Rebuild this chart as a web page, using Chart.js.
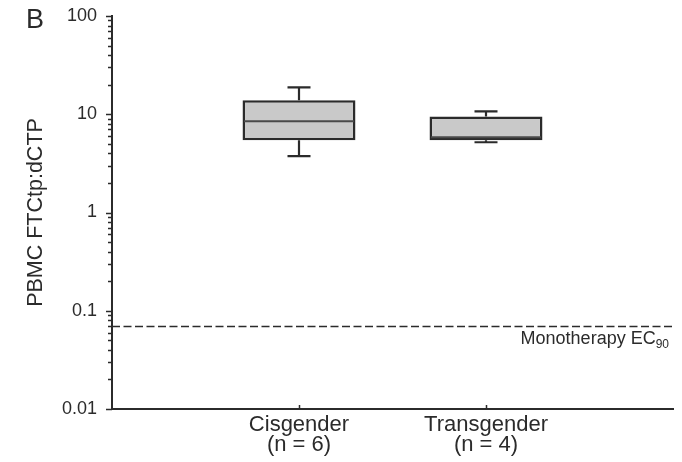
<!DOCTYPE html>
<html>
<head>
<meta charset="utf-8">
<script src="https://cdn.jsdelivr.net/npm/chart.js@4.4.1/dist/chart.umd.min.js"></script>
<style>
  html, body { margin: 0; padding: 0; background: #ffffff; }
  #wrap { width: 682px; height: 462px; }
</style>
</head>
<body>
<div id="wrap"><canvas id="chart" width="682" height="462"></canvas></div>
<script>
// Groups and box-plot summary values (PBMC FTCtp:dCTP ratio)
const groups = ['Cisgender', 'Transgender'];
const groupSizes = [6, 4];
const whiskerLow = [3.74, 5.19];
const quartile1 = [5.43, 5.43];
const medians = [8.5, 5.85];
const quartile3 = [13.9, 9.5];
const whiskerHigh = [18.8, 10.7];

// Reference threshold line
const ec90 = 0.07;

// Y axis decades and their labels
const yTickValues = [0.01, 0.1, 1, 10, 100];
const yTickLabels = ['0.01', '0.1', '1', '10', '100'];

const FONT = '"Liberation Sans", Arial, sans-serif';
const INK = '#2b2b2b';

// Category axis has empty end slots so the two groups sit at 1/3 and 2/3
const labels = [''].concat(groups.map((g, i) => [g, '(n = ' + groupSizes[i] + ')'])).concat(['']);
const boxData = [null].concat(groups.map((g, i) => [quartile1[i], quartile3[i]])).concat([null]);

const boxPlotExtras = {
  id: 'boxPlotExtras',
  afterDatasetsDraw(chart) {
    const ctx = chart.ctx;
    const x = chart.scales.x;
    const y = chart.scales.y;
    const meta = chart.getDatasetMeta(0);
    const area = chart.chartArea;

    ctx.save();
    // threshold line
    const yt = Math.round(y.getPixelForValue(ec90)) + 0.5;
    ctx.strokeStyle = INK;
    ctx.lineWidth = 1.6;
    ctx.setLineDash([8, 3.5]);
    ctx.beginPath();
    ctx.moveTo(area.left, yt);
    ctx.lineTo(area.right, yt);
    ctx.stroke();
    ctx.setLineDash([]);

    groups.forEach((g, i) => {
      const bar = meta.data[i + 1];
      const cx = x.getPixelForValue(i + 1);
      const half = bar.width / 2;
      const cap = 11.5;
      const yMin = y.getPixelForValue(whiskerLow[i]);
      const yQ1 = y.getPixelForValue(quartile1[i]);
      const yMed = y.getPixelForValue(medians[i]);
      const yQ3 = y.getPixelForValue(quartile3[i]);
      const yMax = y.getPixelForValue(whiskerHigh[i]);

      ctx.strokeStyle = INK;
      ctx.lineWidth = 2.2;
      ctx.beginPath();
      ctx.moveTo(cx, yQ3); ctx.lineTo(cx, yMax);
      ctx.moveTo(cx - cap, yMax); ctx.lineTo(cx + cap, yMax);
      ctx.moveTo(cx, yQ1); ctx.lineTo(cx, yMin);
      ctx.moveTo(cx - cap, yMin); ctx.lineTo(cx + cap, yMin);
      ctx.stroke();

      ctx.strokeStyle = '#4a4a4a';
      ctx.lineWidth = 2;
      ctx.beginPath();
      ctx.moveTo(cx - half + 1.5, yMed);
      ctx.lineTo(cx + half - 1.5, yMed);
      ctx.stroke();
    });

    // y tick marks (major and minor), pointing outward
    ctx.strokeStyle = INK;
    ctx.lineWidth = 1.5;
    ctx.beginPath();
    for (let e = -2; e <= 2; e++) {
      for (let m = 1; m <= 9; m++) {
        const v = m * Math.pow(10, e);
        if (v > 100.0001) continue;
        const py = Math.round(y.getPixelForValue(v)) + 0.5;
        const len = m === 1 ? 6 : 4;
        ctx.moveTo(area.left - len, py);
        ctx.lineTo(area.left, py);
      }
    }
    // x tick marks at the groups, pointing inward
    groups.forEach((g, i) => {
      const px = Math.round(x.getPixelForValue(i + 1)) + 0.5;
      ctx.moveTo(px, area.bottom);
      ctx.lineTo(px, area.bottom - 4);
    });
    ctx.stroke();

    // threshold caption
    ctx.fillStyle = INK;
    ctx.textBaseline = 'alphabetic';
    ctx.textAlign = 'right';
    ctx.font = '12px ' + FONT;
    const subW = ctx.measureText('90').width;
    ctx.fillText('90', area.right - 4, yt + 21.5);
    ctx.font = '18px ' + FONT;
    ctx.fillText('Monotherapy EC', area.right - 4 - subW, yt + 17.5);

    // panel letter
    ctx.textAlign = 'left';
    ctx.font = '27px ' + FONT;
    ctx.fillText('B', 26, 28);
    ctx.restore();
  }
};

new Chart(document.getElementById('chart'), {
  type: 'bar',
  data: {
    labels: labels,
    datasets: [{
      data: boxData,
      backgroundColor: '#c9c9c9',
      borderColor: INK,
      borderWidth: 2.5,
      borderSkipped: false,
      categoryPercentage: 1,
      barPercentage: 0.604
    }]
  },
  options: {
    responsive: false,
    animation: false,
    devicePixelRatio: 1,
    layout: { padding: { left: 10, right: 9, top: 16, bottom: 0 } },
    plugins: { legend: { display: false }, tooltip: { enabled: false } },
    scales: {
      x: {
        type: 'category',
        offset: false,
        grid: { display: false, drawTicks: false },
        border: { display: true, color: INK, width: 2 },
        ticks: {
          color: INK,
          padding: 6,
          maxRotation: 0,
          autoSkip: false,
          font: { family: FONT, size: 22, lineHeight: 0.9 }
        },
        afterFit(scale) { scale.height = 53; }
      },
      y: {
        type: 'logarithmic',
        min: 0.01,
        max: 100,
        grid: { display: false, drawTicks: false },
        border: { display: true, color: INK, width: 2 },
        afterBuildTicks(scale) {
          scale.ticks = yTickValues.map(v => ({ value: v, major: true }));
        },
        ticks: {
          color: INK,
          padding: 15,
          font: { family: FONT, size: 18 },
          callback(value) {
            const k = yTickValues.indexOf(value);
            return k >= 0 ? yTickLabels[k] : '';
          }
        },
        title: {
          display: true,
          text: 'PBMC FTCtp:dCTP',
          color: INK,
          padding: { top: 13, bottom: 0 },
          font: { family: FONT, size: 21.5 }
        },
        afterFit(scale) {
          scale.width = 102;
          scale.paddingTop = 0;
          scale.paddingBottom = 0;
        }
      }
    }
  },
  plugins: [boxPlotExtras]
});
</script>
</body>
</html>
